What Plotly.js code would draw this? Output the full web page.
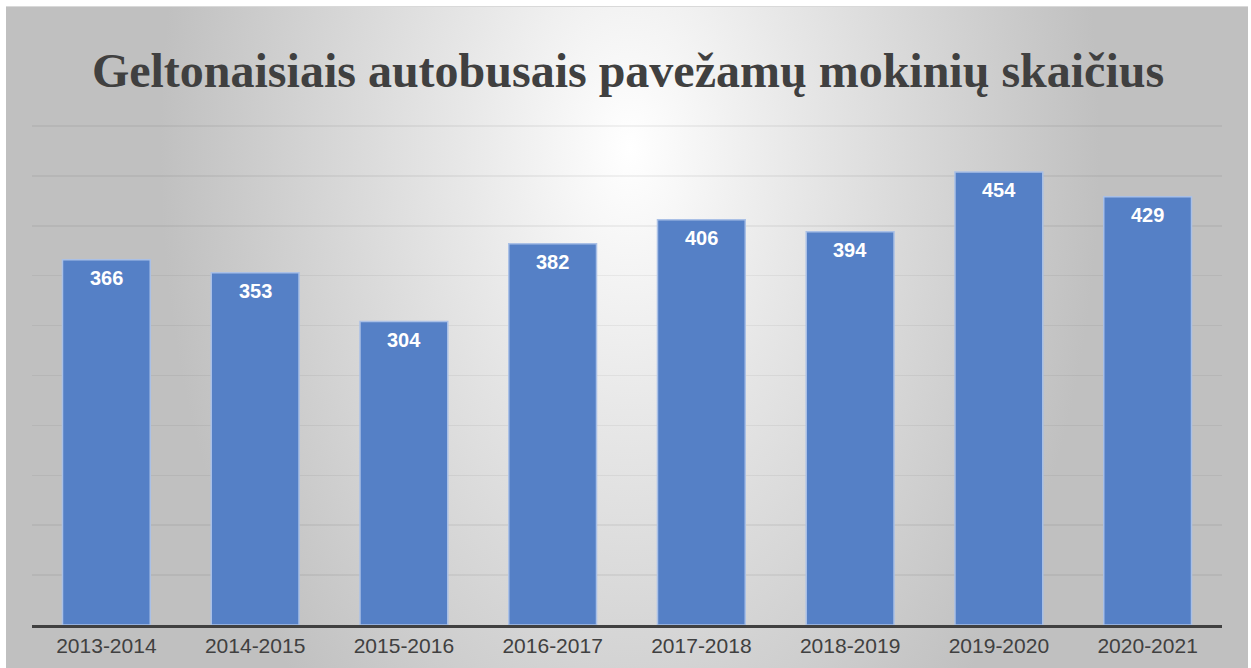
<!DOCTYPE html>
<html>
<head>
<meta charset="utf-8">
<script src="https://cdn.plot.ly/plotly-3.0.1.min.js"></script>
<style>
  html, body { margin: 0; padding: 0; background: #ffffff; }
  #wrap { position: relative; width: 1251px; height: 668px; overflow: hidden; }
  #bg { position: absolute; left: 6px; top: 6px; width: 1242px; height: 662px;
        border-top: 1px solid #d9d9d9;
        background: radial-gradient(ellipse 470px 760px at 624px 140px, #ffffff 0%, #e8e8e8 35%, #c0c0c0 100%); }
  #chart { position: absolute; left: 0; top: 0; width: 1251px; height: 668px; }
</style>
</head>
<body>
<div id="wrap">
  <div id="bg"></div>
  <div id="chart"></div>
</div>
<script>
const categories = ["2013-2014", "2014-2015", "2015-2016", "2016-2017", "2017-2018", "2018-2019", "2019-2020", "2020-2021"];
const students = [366, 353, 304, 382, 406, 394, 454, 429];
const titleText = "Geltonaisiais autobusais pavežamų mokinių skaičius";

const trace = {
  type: "bar",
  x: categories,
  y: students,
  marker: { color: "#5580c6", line: { color: "#aac0e6", width: 1.5 } },
  hoverinfo: "x+y"
};

const annotations = categories.map((c, i) => ({
  x: c, y: students[i], xref: "x", yref: "y",
  text: String(students[i]), showarrow: false,
  yanchor: "middle", yshift: -18,
  font: { family: "Liberation Sans, Arial, sans-serif", size: 20, color: "#ffffff", weight: "bold" }
}));

const layout = {
  width: 1251, height: 668,
  paper_bgcolor: "rgba(0,0,0,0)",
  plot_bgcolor: "rgba(0,0,0,0)",
  margin: { l: 32, r: 29, t: 124, b: 43 },
  showlegend: false,
  bargap: 0.41,
  title: {
    text: "<b>" + titleText + "</b>",
    font: { family: "Liberation Serif, Times New Roman, serif", size: 48, color: "#404040" },
    x: 0.502, xanchor: "center",
    yref: "container", y: 1 - 70 / 668, yanchor: "middle"
  },
  xaxis: {
    type: "category",
    showline: true, linecolor: "#404040", linewidth: 3,
    ticks: "", showgrid: false,
    tickfont: { family: "Liberation Sans, Arial, sans-serif", size: 21, color: "#404040" },
    fixedrange: true
  },
  yaxis: {
    range: [0, 502],
    tick0: 0, dtick: 50,
    showgrid: true, gridcolor: "rgba(0,0,0,0.05)", gridwidth: 1.5,
    zeroline: false, showticklabels: false, ticks: "",
    fixedrange: true
  },
  annotations: annotations
};

Plotly.newPlot("chart", [trace], layout, { displayModeBar: false, staticPlot: true });
</script>
</body>
</html>
